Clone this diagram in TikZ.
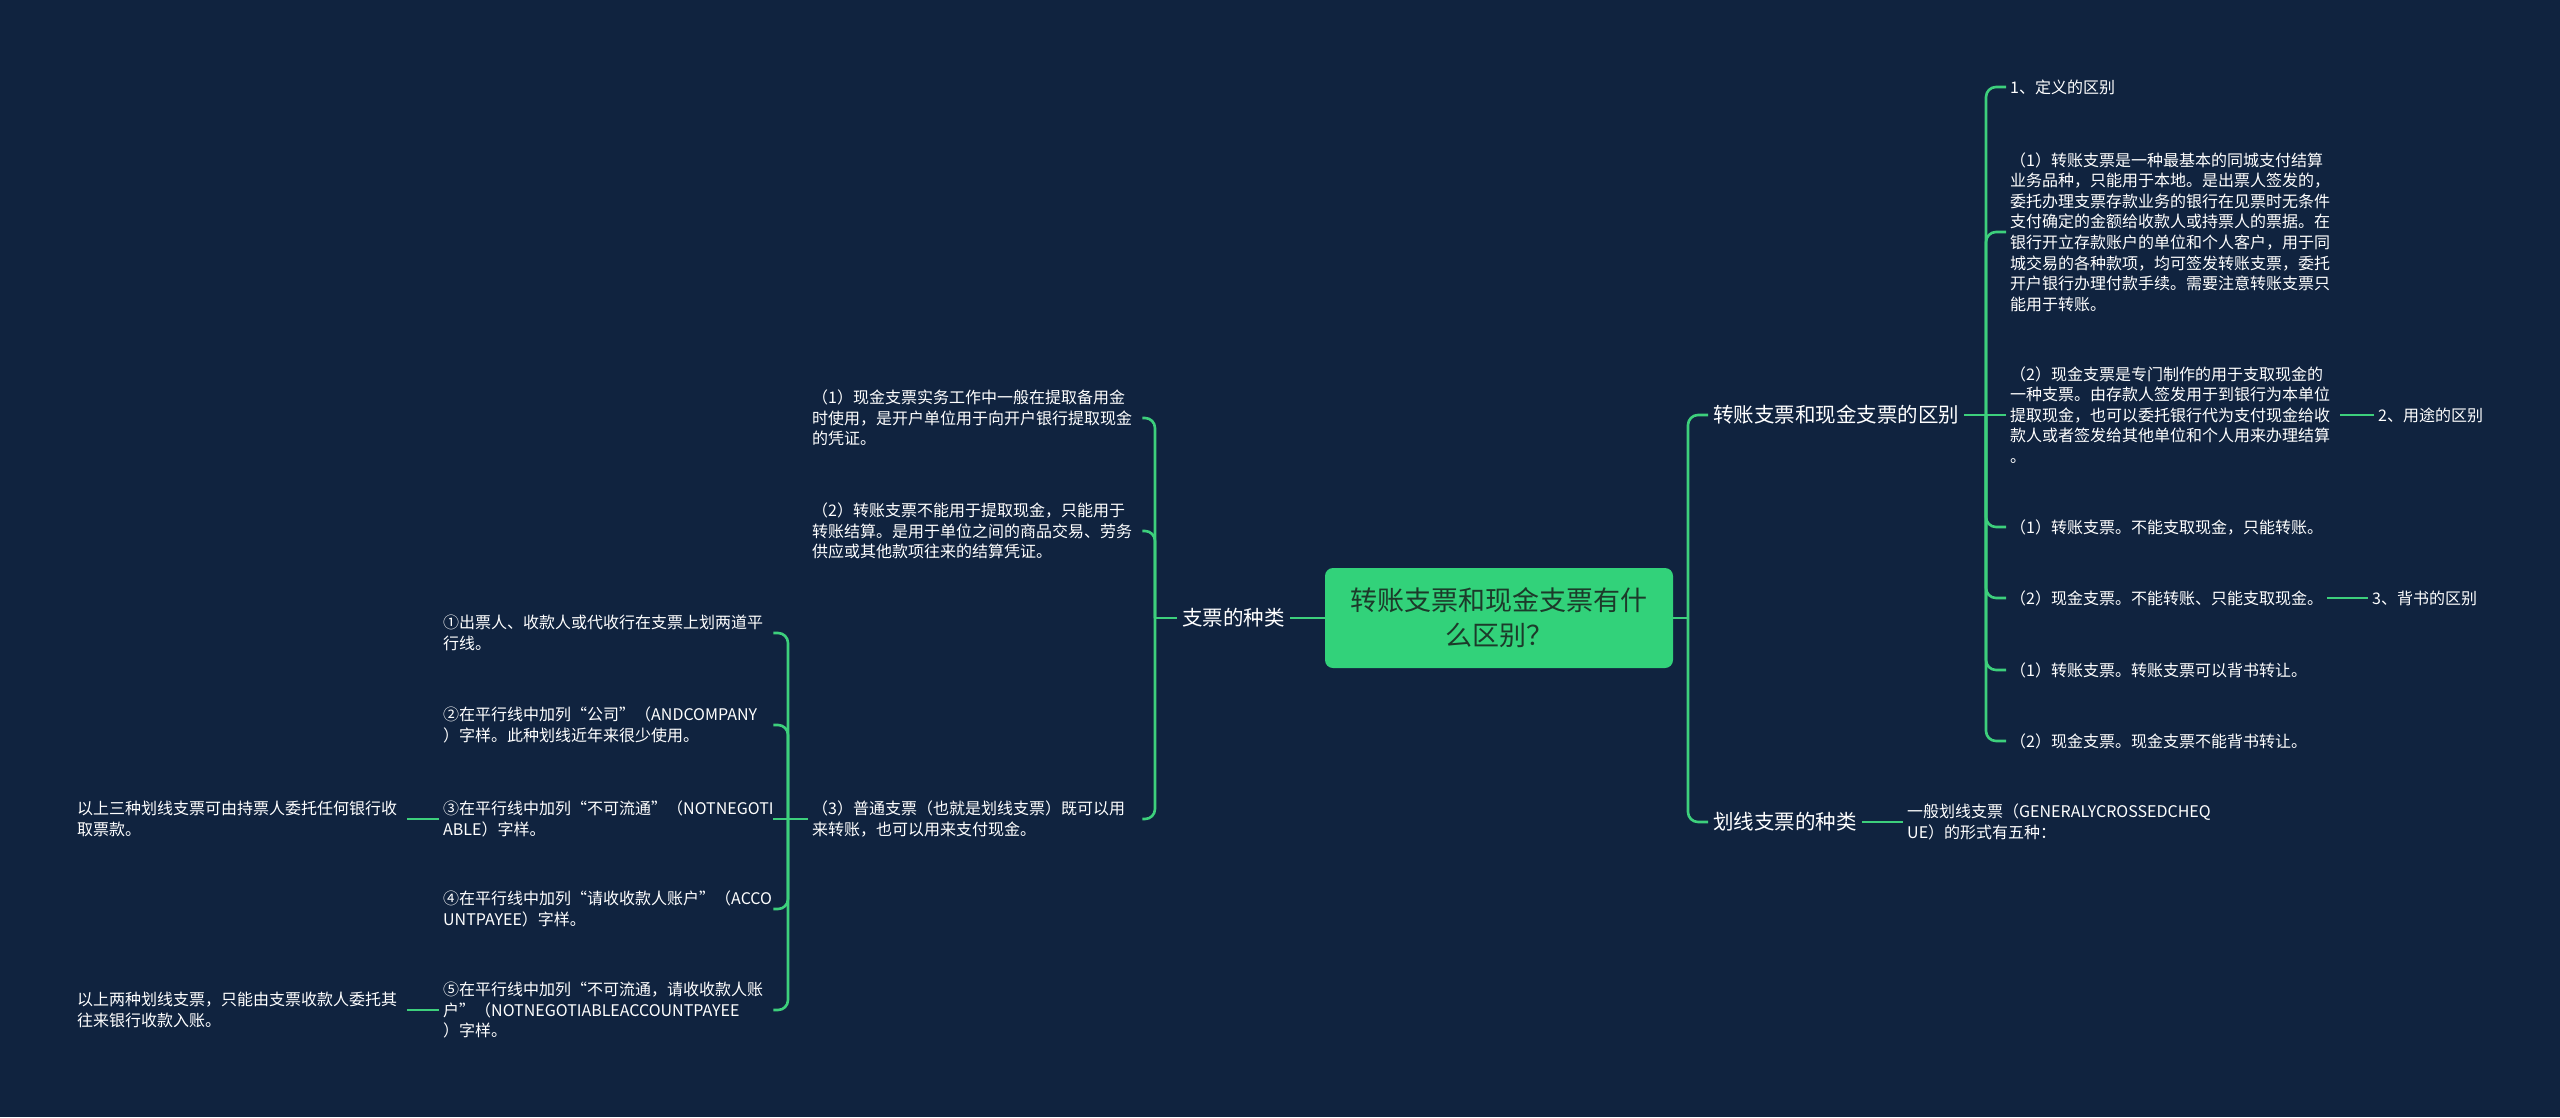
\documentclass[tikz,border=0pt]{standalone}
\usepackage{fontspec}
\setmainfont{Noto Sans CJK SC}
\definecolor{bgc}{HTML}{10233F}
\definecolor{linec}{HTML}{3DCF7C}
\definecolor{rootc}{HTML}{32D27A}
\definecolor{roottxt}{HTML}{1C3A2A}
\begin{document}
\begin{tikzpicture}[x=1pt,y=-1pt,
  txt/.style={text=white, font=\fontsize{16}{20.6}\selectfont, inner sep=4pt, align=left},
  blk/.style={txt, text width=326pt},
  lvl/.style={text=white, font=\fontsize{20.5}{24}\selectfont, inner sep=5pt},
  rootbox/.style={fill=rootc, rounded corners=8pt, minimum width=348pt, minimum height=100pt,
    align=center, font=\fontsize{27}{35}\selectfont, text=roottxt, inner sep=0pt},
  conn/.style={draw=linec, line width=2.6pt},
  rc/.style={conn, rounded corners=10pt}]
\fill[bgc] (0,0) rectangle (2560,1117);
\useasboundingbox (0,0) rectangle (2560,1117);

% root
\node[rootbox] (root) at (1499,618) {转账支票和现金支票有什\\么区别？};

% right level 1
\node[lvl, anchor=west] (R1) at (1708,415) {转账支票和现金支票的区别};
\node[lvl, anchor=west] (R2) at (1708,822) {划线支票的种类};

% right level 2
\node[txt, anchor=west] (a1) at (2006,87) {1、定义的区别};
\node[blk, anchor=west] (a2) at (2006,232) {（1）转账支票是一种最基本的同城支付结算\\业务品种，只能用于本地。是出票人签发的，\\委托办理支票存款业务的银行在见票时无条件\\支付确定的金额给收款人或持票人的票据。在\\银行开立存款账户的单位和个人客户，用于同\\城交易的各种款项，均可签发转账支票，委托\\开户银行办理付款手续。需要注意转账支票只\\能用于转账。};
\node[blk, anchor=west] (a3) at (2006,415) {（2）现金支票是专门制作的用于支取现金的\\一种支票。由存款人签发用于到银行为本单位\\提取现金，也可以委托银行代为支付现金给收\\款人或者签发给其他单位和个人用来办理结算\\。};
\node[txt, anchor=west] (a4) at (2006,527) {（1）转账支票。不能支取现金，只能转账。};
\node[txt, anchor=west] (a5) at (2006,598) {（2）现金支票。不能转账、只能支取现金。};
\node[txt, anchor=west] (a6) at (2006,670) {（1）转账支票。转账支票可以背书转让。};
\node[txt, anchor=west] (a7) at (2006,741) {（2）现金支票。现金支票不能背书转让。};
\node[txt, anchor=west] (b1) at (2374,415) {2、用途的区别};
\node[txt, anchor=west] (b2) at (2368,598) {3、背书的区别};
\node[txt, anchor=west] (f1) at (1903,822) {一般划线支票（GENERALYCROSSEDCHEQ\\UE）的形式有五种：};

% left level 1
\node[lvl, anchor=east] (L1) at (1290,618) {支票的种类};

% left level 2
\node[blk, anchor=west] (c1) at (808,418) {（1）现金支票实务工作中一般在提取备用金\\时使用，是开户单位用于向开户银行提取现金\\的凭证。};
\node[blk, anchor=west] (c2) at (808,531) {（2）转账支票不能用于提取现金，只能用于\\转账结算。是用于单位之间的商品交易、劳务\\供应或其他款项往来的结算凭证。};
\node[blk, anchor=west] (c3) at (808,819) {（3）普通支票（也就是划线支票）既可以用\\来转账，也可以用来支付现金。};

% left level 3
\node[blk, anchor=west] (d1) at (439,633) {①出票人、收款人或代收行在支票上划两道平\\行线。};
\node[blk, anchor=west] (d2) at (439,725) {②在平行线中加列“公司”（ANDCOMPANY\\）字样。此种划线近年来很少使用。};
\node[blk, anchor=west] (d3) at (439,819) {③在平行线中加列“不可流通”（NOTNEGOTI\\ABLE）字样。};
\node[blk, anchor=west] (d4) at (439,909) {④在平行线中加列“请收收款人账户”（ACCO\\UNTPAYEE）字样。};
\node[blk, anchor=west] (d5) at (439,1010) {⑤在平行线中加列“不可流通，请收收款人账\\户”（NOTNEGOTIABLEACCOUNTPAYEE\\）字样。};

% left level 4
\node[blk, anchor=west] (e1) at (73,819) {以上三种划线支票可由持票人委托任何银行收\\取票款。};
\node[blk, anchor=west] (e2) at (73,1010) {以上两种划线支票，只能由支票收款人委托其\\往来银行收款入账。};

% junctions
\coordinate (jR) at (1688,618);
\coordinate (j1) at (1986,415);
\coordinate (jL) at (1155,618);
\coordinate (jC) at (788,819);

% right connectors
\draw[conn] (root.east) -- (jR);
\draw[rc] (jR) |- (R1.west);
\draw[rc] (jR) |- (R2.west);
\draw[conn] (R1.east) -- (a3.west);
\draw[rc] (j1) |- (a1.west);
\draw[rc] (j1) |- (a2.west);
\draw[rc] (j1) |- (a4.west);
\draw[rc] (j1) |- (a5.west);
\draw[rc] (j1) |- (a6.west);
\draw[rc] (j1) |- (a7.west);
\draw[conn] (a3.east) -- (b1.west);
\draw[conn] (a5.east) -- (b2.west);
\draw[conn] (R2.east) -- (f1.west);

% left connectors
\draw[conn] (root.west) -- (L1.east);
\draw[conn] (L1.west) -- (jL);
\draw[rc] (jL) |- (c1.east);
\draw[rc] (jL) |- (c2.east);
\draw[rc] (jL) |- (c3.east);
\draw[conn] (c3.west) -- (d3.east);
\draw[rc] (jC) |- (d1.east);
\draw[rc] (jC) |- (d2.east);
\draw[rc] (jC) |- (d4.east);
\draw[rc] (jC) |- (d5.east);
\draw[conn] (d3.west) -- (e1.east);
\draw[conn] (d5.west) -- (e2.east);
\end{tikzpicture}
\end{document}
